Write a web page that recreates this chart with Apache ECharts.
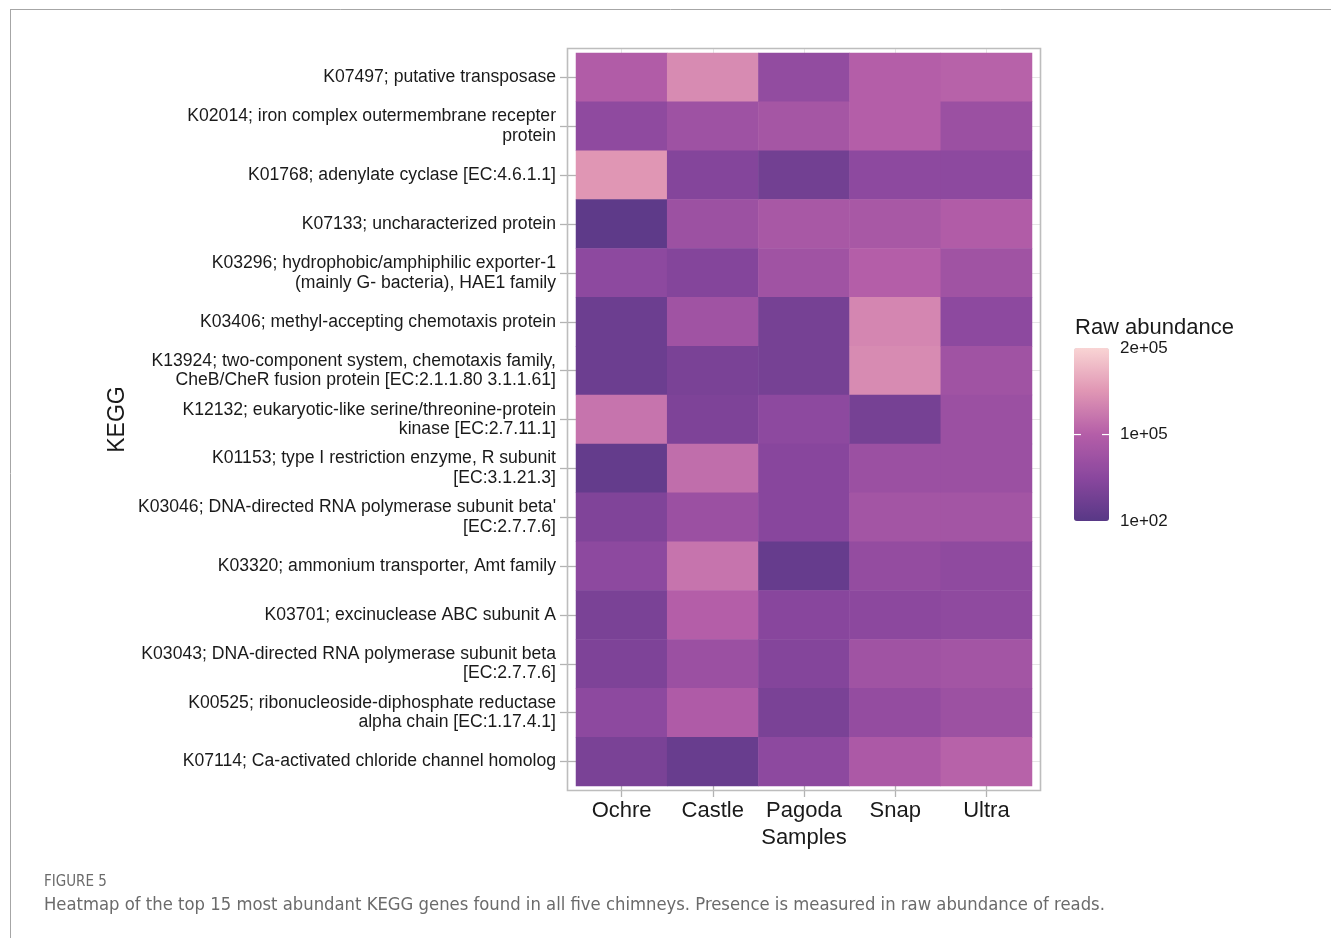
<!DOCTYPE html>
<html>
<head>
<meta charset="utf-8">
<style>html,body{margin:0;padding:0;background:#fff;}#c{width:1331px;height:938px;}</style>
<script src="https://cdn.jsdelivr.net/npm/echarts@6/dist/echarts.min.js"></script>
</head>
<body>
<div id="c"></div>
<script>
const genes = [
  "K07497; putative transposase",
  "K02014; iron complex outermembrane recepter\nprotein",
  "K01768; adenylate cyclase [EC:4.6.1.1]",
  "K07133; uncharacterized protein",
  "K03296; hydrophobic/amphiphilic exporter-1\n(mainly G- bacteria), HAE1 family",
  "K03406; methyl-accepting chemotaxis protein",
  "K13924; two-component system, chemotaxis family,\nCheB/CheR fusion protein [EC:2.1.1.80 3.1.1.61]",
  "K12132; eukaryotic-like serine/threonine-protein\nkinase [EC:2.7.11.1]",
  "K01153; type I restriction enzyme, R subunit\n[EC:3.1.21.3]",
  "K03046; DNA-directed RNA polymerase subunit beta'\n[EC:2.7.7.6]",
  "K03320; ammonium transporter, Amt family",
  "K03701; excinuclease ABC subunit A",
  "K03043; DNA-directed RNA polymerase subunit beta\n[EC:2.7.7.6]",
  "K00525; ribonucleoside-diphosphate reductase\nalpha chain [EC:1.17.4.1]",
  "K07114; Ca-activated chloride channel homolog"
];
const samples = ["Ochre", "Castle", "Pagoda", "Snap", "Ultra"];
// raw abundance per sample, in gene order (top to bottom)
const ochre  = [96000, 56000, 150000, 6000, 54000, 20000, 20000, 120000, 12000, 40000, 54000, 34000, 38000, 54000, 34000];
const castle = [140000, 74000, 44000, 72000, 44000, 76000, 34000, 38000, 114000, 70000, 120000, 100000, 70000, 94000, 16000];
const pagoda = [60000, 82000, 26000, 86000, 76000, 30000, 30000, 54000, 48000, 48000, 14000, 48000, 44000, 34000, 54000];
const snap   = [100000, 100000, 54000, 86000, 100000, 136000, 140000, 30000, 70000, 80000, 62000, 52000, 76000, 62000, 90000];
const ultra  = [104000, 70000, 54000, 96000, 76000, 54000, 76000, 70000, 70000, 80000, 56000, 56000, 80000, 72000, 104000];
const legendTicks = ["2e+05", "1e+05", "1e+02"];
const scaleMin = 100, scaleMax = 200000;

const cols = [ochre, castle, pagoda, snap, ultra];
const data = [];
cols.forEach((arr, xi) => arr.forEach((v, yi) => data.push([xi, yi, v])));

const FONT = "Liberation Sans, Arial, sans-serif";
const CAPFONT = '"Liberation Sans Narrow", "DejaVu Sans Condensed", sans-serif';
const chart = echarts.init(document.getElementById('c'), null, {renderer: 'canvas'});
const gridL = 576, gridT = 53, gridR = 1032, gridB = 786;
const barX = 1074, barY = 348, barW = 35, barH = 173;
const midY = barY + barH * (1 - (100000 - scaleMin) / (scaleMax - scaleMin));

chart.setOption({
  animation: false,
  backgroundColor: '#fff',
  grid: {left: gridL, top: gridT, width: gridR - gridL, height: gridB - gridT, containLabel: false},
  xAxis: [{
    type: 'category', data: samples, position: 'bottom',
    axisLine: {show: false},
    axisTick: {show: true, alignWithLabel: true, length: 11, lineStyle: {color: '#b3b3b3', width: 1.3}},
    axisLabel: {color: '#1a1a1a', fontFamily: FONT, fontSize: 22, margin: 14, interval: 0, hideOverlap: false},
    splitLine: {show: false},
    name: 'Samples', nameLocation: 'middle', nameGap: 39,
    nameTextStyle: {color: '#1a1a1a', fontFamily: FONT, fontSize: 22, verticalAlign: 'top'}
  }, {
    type: 'category', data: samples, position: 'top',
    axisLine: {show: false},
    axisTick: {show: true, alignWithLabel: true, length: 5, lineStyle: {color: '#e6e6e6', width: 1}},
    axisLabel: {show: false}
  }],
  yAxis: [{
    type: 'category', data: genes, inverse: true, position: 'left',
    axisLine: {show: false},
    axisTick: {show: true, alignWithLabel: true, length: 16, lineStyle: {color: '#b3b3b3', width: 1.3}},
    axisLabel: {color: '#1a1a1a', fontFamily: FONT, fontSize: 17.6, lineHeight: 19.5, interval: 0, margin: 20, align: 'right'},
    name: 'KEGG', nameLocation: 'middle', nameGap: 447, nameRotate: 90,
    nameTextStyle: {color: '#1a1a1a', fontFamily: FONT, fontSize: 23}
  }, {
    type: 'category', data: genes, inverse: true, position: 'right',
    axisLine: {show: false},
    axisTick: {show: true, alignWithLabel: true, length: 9, lineStyle: {color: '#e6e6e6', width: 1}},
    axisLabel: {show: false}
  }],
  visualMap: {
    type: 'continuous', min: scaleMin, max: scaleMax, calculable: false,
    show: true, left: barX, top: barY, itemWidth: barW, itemHeight: barH, padding: 0,
    text: null, showLabel: false, orient: 'vertical', seriesIndex: 0,
    inRange: {color: ['#583886', '#8a479e', '#b45ea8', '#e096b4', '#f9d4d4']}
  },
  series: [{
    type: 'heatmap', xAxisIndex: 0, yAxisIndex: 0, data: data,
    itemStyle: {borderWidth: 0}, emphasis: {disabled: true}
  }],
  graphic: [
    {type: 'line', shape: {x1: 10, y1: 9.5, x2: 1331, y2: 9.5}, style: {stroke: '#a6a6a6', lineWidth: 1}, silent: true},
    {type: 'line', shape: {x1: 10.5, y1: 9, x2: 10.5, y2: 938}, style: {stroke: '#a6a6a6', lineWidth: 1}, silent: true},
    {type: 'rect', shape: {x: 567.5, y: 48.5, width: 473, height: 742}, style: {fill: 'none', stroke: '#bdbdbd', lineWidth: 1.6}, silent: true, z: 10},
    {type: 'text', x: 1075, y: 328, style: {text: 'Raw abundance', font: '22px ' + FONT, fill: '#1a1a1a', verticalAlign: 'middle'}, silent: true},
    {type: 'text', x: 1120, y: barY, style: {text: legendTicks[0], font: '17px ' + FONT, fill: '#1a1a1a', verticalAlign: 'middle'}, silent: true},
    {type: 'text', x: 1120, y: midY, style: {text: legendTicks[1], font: '17px ' + FONT, fill: '#1a1a1a', verticalAlign: 'middle'}, silent: true},
    {type: 'text', x: 1120, y: barY + barH, style: {text: legendTicks[2], font: '17px ' + FONT, fill: '#1a1a1a', verticalAlign: 'middle'}, silent: true},
    {type: 'line', shape: {x1: barX, y1: midY, x2: barX + 7, y2: midY}, style: {stroke: '#ffffff', lineWidth: 1.2}, silent: true, z: 100},
    {type: 'line', shape: {x1: barX + barW - 7, y1: midY, x2: barX + barW, y2: midY}, style: {stroke: '#ffffff', lineWidth: 1.2}, silent: true, z: 100},
    {type: 'text', x: 44, y: 882, style: {text: 'FIGURE 5', font: '15px ' + CAPFONT, fill: '#6b6b6b', verticalAlign: 'middle'}, silent: true},
    {type: 'text', x: 44, y: 905, style: {text: 'Heatmap of the top 15 most abundant KEGG genes found in all five chimneys. Presence is measured in raw abundance of reads.', font: '18.3px ' + CAPFONT, fill: '#6b6b6b', verticalAlign: 'middle'}, silent: true}
  ]
});
</script>
</body>
</html>
